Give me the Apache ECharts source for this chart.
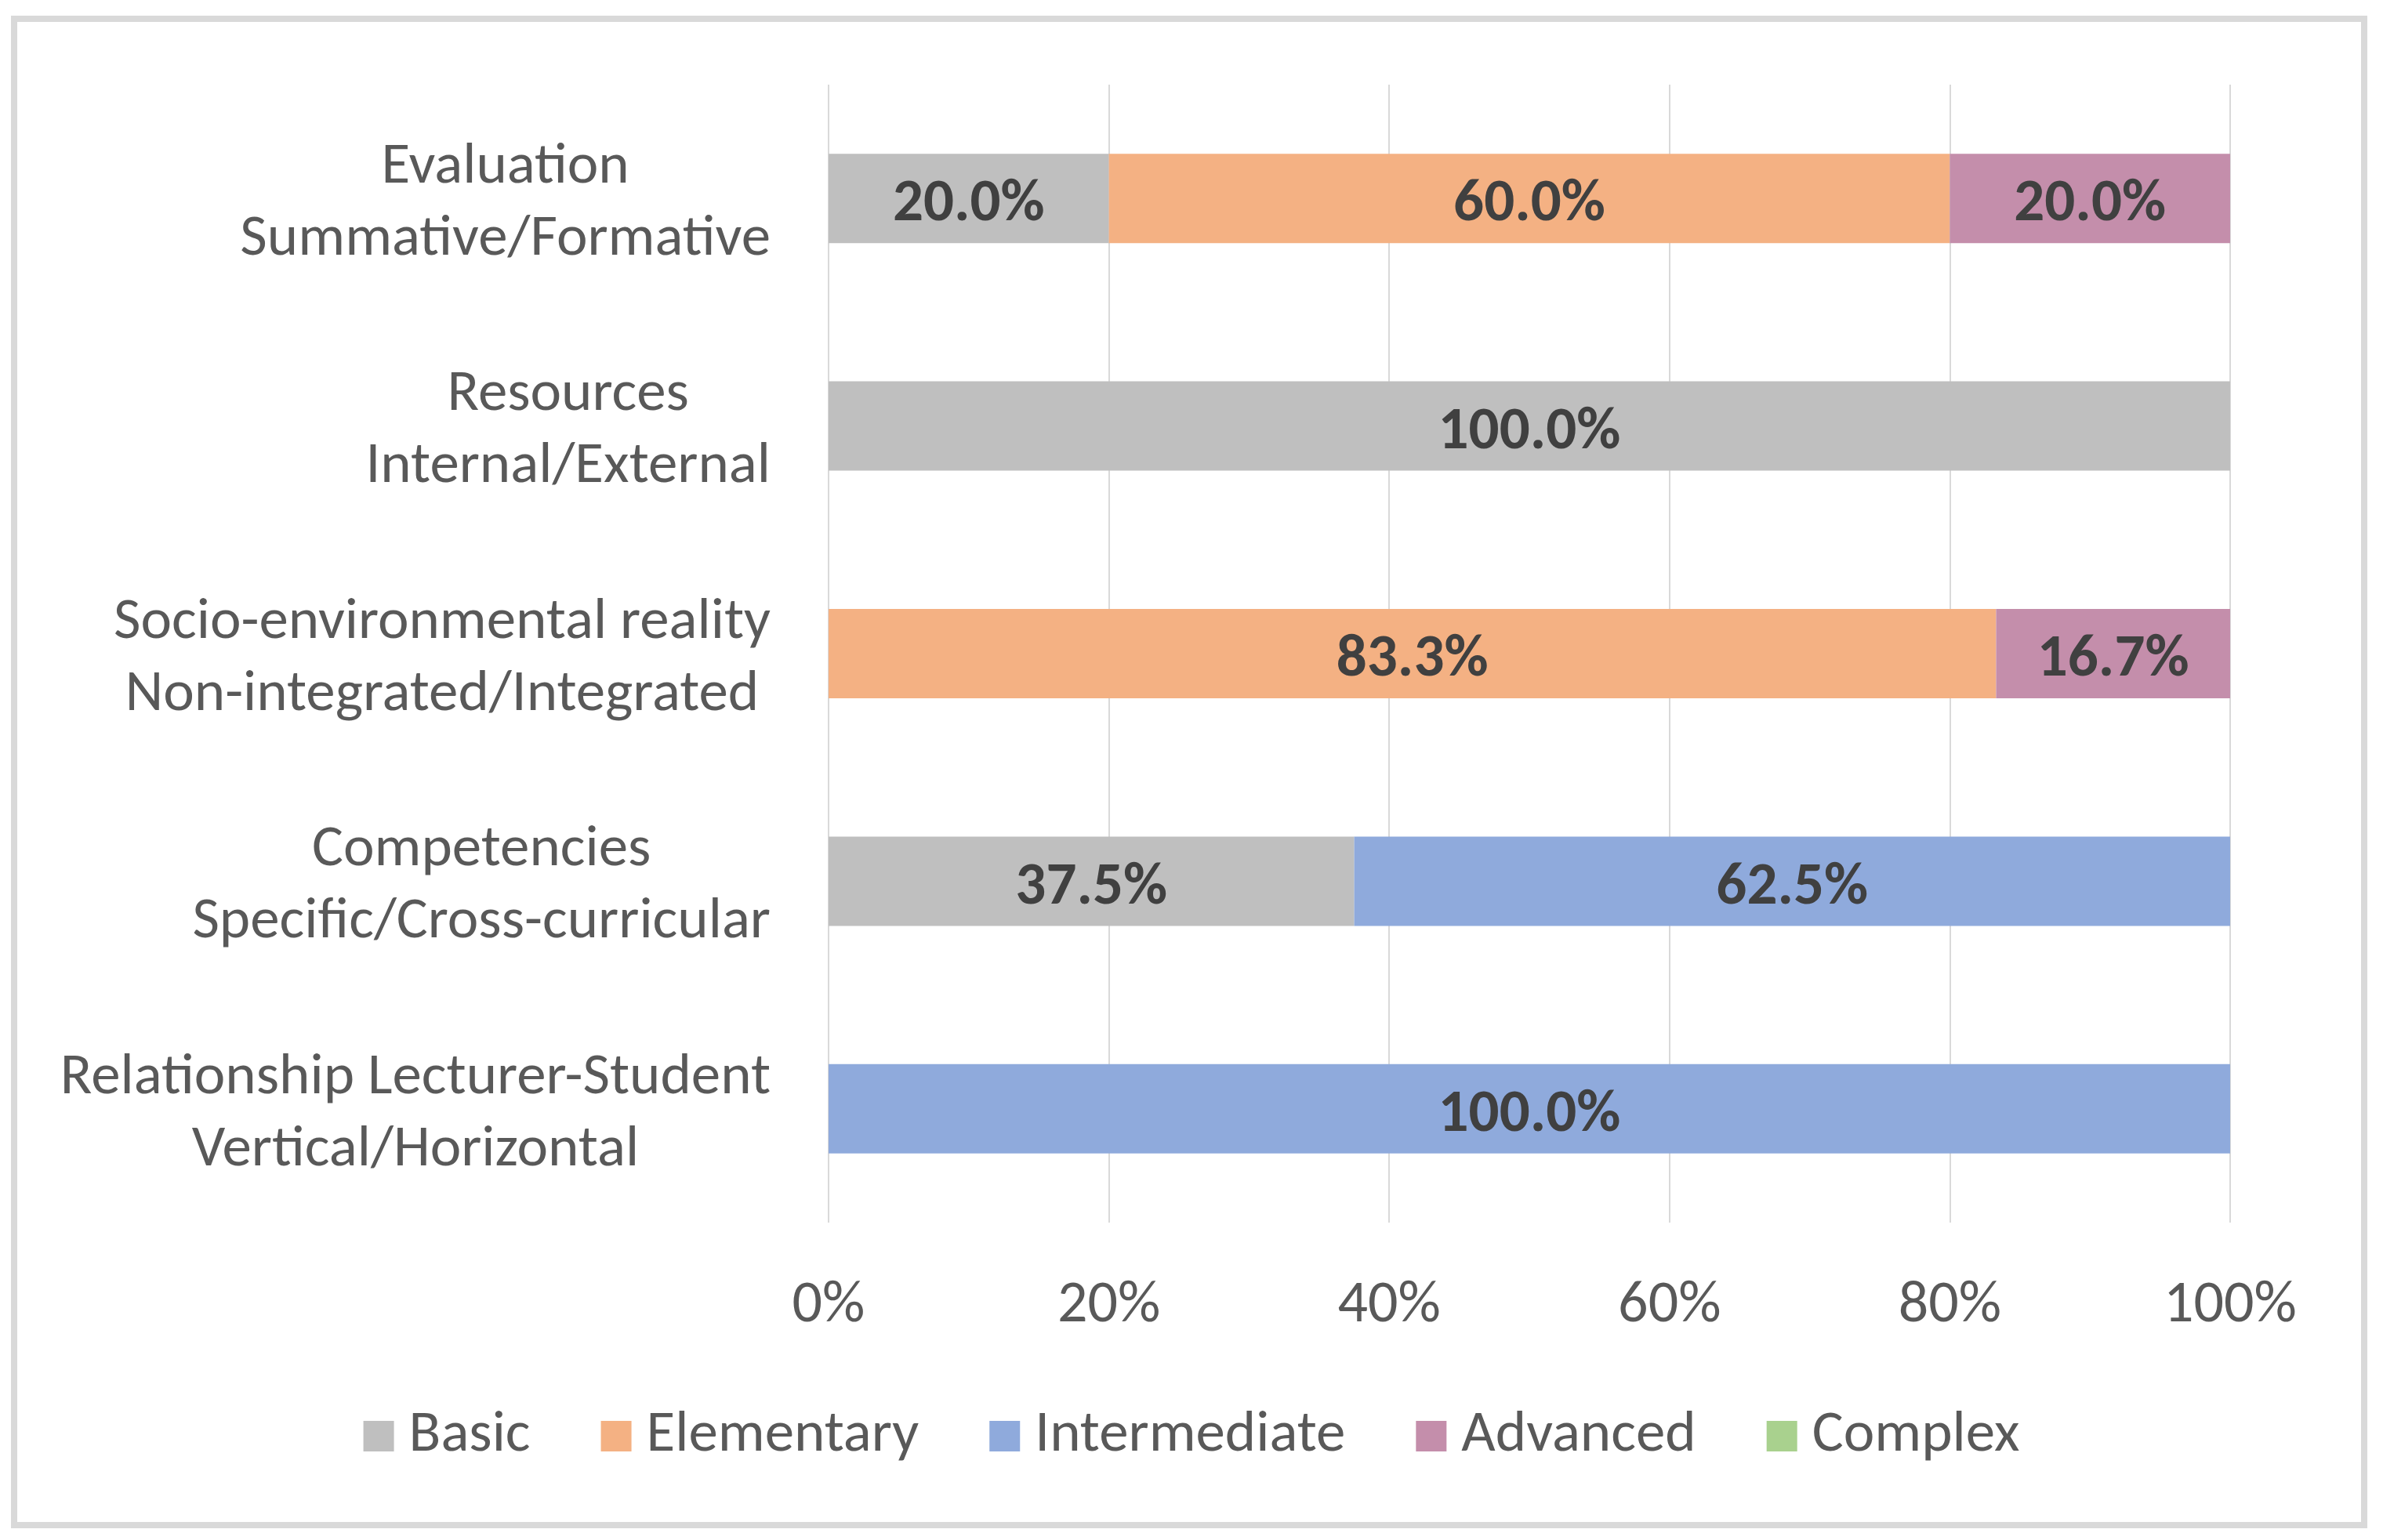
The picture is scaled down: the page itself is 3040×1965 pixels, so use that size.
<!DOCTYPE html>
<html>
<head>
<meta charset="utf-8">
<script src="https://cdn.jsdelivr.net/npm/echarts@6/dist/echarts.min.js"></script>
<style>
html,body{margin:0;padding:0;background:#fff;}
#chart{width:3040px;height:1965px;}
#frame{position:absolute;left:14px;top:20px;width:2990px;height:1914px;border:8px solid #D9D9D9;pointer-events:none;}
</style>
</head>
<body>
<div id="chart"></div>
<div id="frame"></div>
<script>
const categories = [
  'Evaluation\nSummative/Formative',
  'Resources\nInternal/External',
  'Socio-environmental reality\nNon-integrated/Integrated',
  'Competencies\nSpecific/Cross-curricular',
  'Relationship Lecturer-Student\nVertical/Horizontal'
];
const seriesNames = ['Basic', 'Elementary', 'Intermediate', 'Advanced', 'Complex'];
const basic = [20.0, 100.0, 0, 37.5, 0];
const elementary = [60.0, 0, 83.3, 0, 0];
const intermediate = [0, 0, 0, 62.5, 100.0];
const advanced = [20.0, 0, 16.7, 0, 0];
const complex = [0, 0, 0, 0, 0];
const xTicks = [0, 20, 40, 60, 80, 100];

const colors = ['#BFBFBF', '#F4B183', '#8FAADC', '#C48EAB', '#A9D18E'];
const FONT = 'Carlito, Lato, sans-serif';
const seriesData = [basic, elementary, intermediate, advanced, complex];

const chart = echarts.init(document.getElementById('chart'));
chart.setOption({
  animation: false,
  color: colors,
  textStyle: { fontFamily: FONT },
  grid: { left: 1057, right: 195, top: 108, bottom: 405, containLabel: false },
  legend: {
    data: seriesNames,
    bottom: 90,
    left: 'center',
    padding: [5, 5, 5, 33],
    itemWidth: 39,
    itemHeight: 39,
    itemGap: 90,
    icon: 'rect',
    textStyle: { fontFamily: FONT, fontSize: 75, color: '#595959', padding: [0, 0, 0, 14] }
  },
  xAxis: {
    type: 'value',
    min: xTicks[0],
    max: xTicks[xTicks.length - 1],
    interval: xTicks[1] - xTicks[0],
    axisLine: { show: false },
    axisTick: { show: false },
    splitLine: { show: true, lineStyle: { color: '#D9D9D9', width: 2 } },
    axisLabel: { formatter: '{value}%', fontFamily: FONT, fontSize: 76, color: '#595959', margin: 69 }
  },
  yAxis: {
    type: 'category',
    inverse: true,
    data: categories,
    axisLine: { show: false },
    axisTick: { show: false },
    axisLabel: {
      margin: 74,
      align: 'right',
      padding: [14, 0, 0, 0],
      formatter: v => v.split('\n').map(s => '{c|' + s + '}').join('\n'),
      rich: { c: { align: 'center', fontFamily: FONT, fontSize: 75, color: '#595959', lineHeight: 92 } }
    }
  },
  series: seriesNames.map((name, i) => ({
    name: name,
    type: 'bar',
    stack: 'total',
    barWidth: 114,
    data: seriesData[i],
    itemStyle: { color: colors[i] },
    emphasis: { disabled: true },
    label: {
      show: true,
      position: 'inside',
      offset: [0, 9],
      fontFamily: FONT,
      fontSize: 77,
      fontWeight: 'bold',
      color: '#404040',
      formatter: p => (p.value ? p.value.toFixed(1) + '%' : '')
    }
  }))
});
</script>
</body>
</html>
